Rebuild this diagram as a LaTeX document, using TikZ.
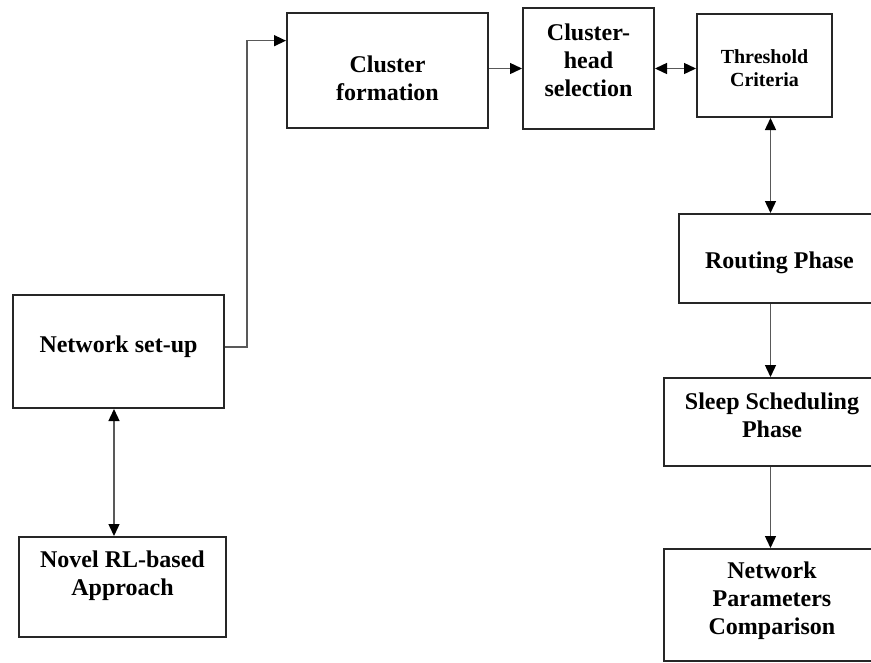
\documentclass[tikz,border=0pt]{standalone}
\usepackage{fontspec}
\setmainfont{Liberation Serif}
\usetikzlibrary{arrows.meta,calc}
\begin{document}
\begin{tikzpicture}[x=1pt,y=-1pt,
  box/.style={draw=black!85, line width=2pt, inner sep=0pt, fill=none},
  lbl/.style={font=\bfseries\fontsize{24}{28}\selectfont, align=center, text=black, inner sep=0pt},
  slbl/.style={font=\bfseries\fontsize{20}{23}\selectfont, align=center, text=black, inner sep=0pt},
  con/.style={draw=black!65, line width=1.4pt},
  tip/.tip={Triangle[length=12pt,width=11pt,color=black]},
  arr/.style={con, -tip},
  darr/.style={con, tip-tip}]
\useasboundingbox (0,0) rectangle (871,662);
\clip (0,0) rectangle (871,662);

% boxes
\node[box, minimum width=211pt, minimum height=113pt] (ns)  at (118.5,351.5) {};
\node[box, minimum width=201pt, minimum height=115pt] (cf)  at (387.5,70.5) {};
\node[box, minimum width=131pt, minimum height=121pt] (ch)  at (588.5,68.5) {};
\node[box, minimum width=135pt, minimum height=103pt] (th)  at (764.5,65.5) {};
\node[box, minimum width=201pt, minimum height=89pt]  (rp)  at (779.5,258.5) {};
\node[box, minimum width=216pt, minimum height=88pt]  (ss)  at (772,422) {};
\node[box, minimum width=216pt, minimum height=112pt] (npc) at (772,605) {};
\node[box, minimum width=207pt, minimum height=100pt] (nov) at (122.5,587) {};

% labels
\node[lbl]  (nsT)  at ([yshift=4.5pt]ns.center) {Network set-up};
\node[lbl]  (cfT)  at ([yshift=-7.5pt]cf.center) {Cluster\\formation};
\node[lbl]  (chT)  at ([yshift=8.5pt]ch.center) {Cluster-\\head\\selection};
\node[slbl] (thT)  at ([yshift=-3pt]th.center) {Threshold\\Criteria};
\node[lbl]  (rpT)  at ([yshift=-4pt]rp.center) {Routing Phase};
\node[lbl]  (ssT)  at ([yshift=7pt]ss.center) {Sleep Scheduling\\Phase};
\node[lbl]  (npcT) at ([yshift=4pt]npc.center) {Network\\Parameters\\Comparison};
\node[lbl]  (novT) at ([yshift=11pt]nov.center) {Novel RL-based\\Approach};

% connectors
\draw[arr] ($(ns.north east)!0.46!(ns.south east)$) -- ++(22,0) |- ($(cf.north west)!0.245!(cf.south west)$);
\draw[arr] (ch.west -| cf.east) -- (ch.west);
\draw[darr] (ch.east) -- (ch.east -| th.west);
\coordinate (vx) at ([xshift=6pt]th.south);
\draw[darr] (vx) -- (vx |- rp.north);
\draw[arr] (vx |- rp.south) -- (vx |- ss.north);
\draw[arr] (vx |- ss.south) -- (vx |- npc.north);
\coordinate (vl) at ([xshift=-4.5pt]ns.south);
\draw[darr] (vl) -- (vl |- nov.north);
\end{tikzpicture}
\end{document}
